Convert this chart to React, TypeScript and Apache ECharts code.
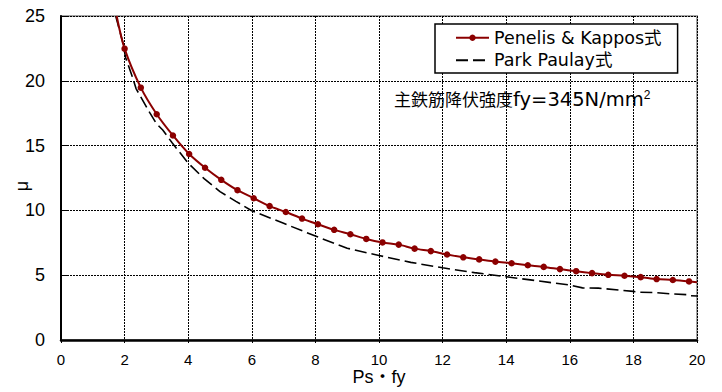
import React, { useEffect, useRef } from "react";
import * as echarts from "echarts";

const xTicks = { min: 0, max: 20, interval: 2 };
const yTicks = { min: 0, max: 25, interval: 5 };

const seriesNames = ["Penelis & Kappos式", "Park Paulay式"];

const penelisX = [1.75, 2.0, 2.51, 3.01, 3.52, 4.03, 4.53, 5.04, 5.55, 6.06, 6.56, 7.07, 7.58, 8.08, 8.59, 9.1, 9.6, 10.11, 10.62, 11.12, 11.63, 12.14, 12.65, 13.15, 13.66, 14.17, 14.68, 15.18, 15.69, 16.2, 16.7, 17.21, 17.72, 18.23, 18.73, 19.24, 19.75, 20.0];
const penelisY = [25.0, 22.48, 19.47, 17.42, 15.78, 14.35, 13.29, 12.36, 11.56, 10.94, 10.33, 9.88, 9.37, 8.93, 8.5, 8.16, 7.8, 7.53, 7.36, 7.05, 6.86, 6.6, 6.38, 6.22, 6.05, 5.92, 5.77, 5.64, 5.47, 5.31, 5.16, 5.03, 4.96, 4.85, 4.7, 4.63, 4.52, 4.45];

const parkX = [1.72, 1.94, 2.03, 2.26, 2.36, 2.8, 3.0, 3.2, 3.5, 4.0, 4.5, 5.0, 5.5, 6.0, 7.0, 8.0, 9.0, 10.0, 11.0, 12.0, 13.0, 14.0, 15.0, 16.0, 16.4, 16.9, 18.0, 18.2, 18.7, 19.25, 19.7, 19.77, 20.0];
const parkY = [25.0, 23.0, 21.8, 20.2, 19.4, 17.5, 16.7, 16.2, 15.2, 13.65, 12.45, 11.45, 10.7, 9.97, 9.0, 8.02, 7.08, 6.52, 5.99, 5.57, 5.2, 4.88, 4.56, 4.24, 4.02, 4.0, 3.75, 3.68, 3.66, 3.55, 3.5, 3.42, 3.4];

const xAxisTitle = "Ps・fy";
const yAxisTitle = "μ";
const noteMain = "主鉄筋降伏強度";
const noteLatin = "fy=345N/mm";
const noteSup = "2";

const FONT = '"Liberation Sans", Arial, "Noto Sans CJK JP", sans-serif';
const WIDE = '"DejaVu Sans", "Noto Sans CJK JP", sans-serif';
const RED = "#8B0000";

export default function App() {
  const ref = useRef<HTMLDivElement>(null);

  useEffect(() => {
    document.body.style.margin = "0";
    if (!ref.current) return;
    const chart = echarts.init(ref.current, undefined, { renderer: "svg" });

    const penelisData = penelisX.map((x, i) => {
      const edge = i === 0 || i === penelisX.length - 1;
      return edge ? { value: [x, penelisY[i]], symbol: "none" } : { value: [x, penelisY[i]] };
    });
    const parkData = parkX.map((x, i) => [x, parkY[i]]);

    chart.setOption({
      animation: false,
      backgroundColor: "#ffffff",
      textStyle: { fontFamily: FONT },
      grid: {
        left: 61,
        right: 25,
        top: 16,
        bottom: 52,
        show: true,
        borderColor: "#a6a6a6",
        borderWidth: 2,
        backgroundColor: "transparent",
      },
      xAxis: {
        type: "value",
        min: xTicks.min,
        max: xTicks.max,
        interval: xTicks.interval,
        axisLine: { show: true, onZero: false, lineStyle: { color: "#000", width: 2.5 } },
        axisTick: { show: true, inside: false, length: 3, lineStyle: { color: "#000", width: 1 } },
        axisLabel: { fontSize: 15, color: "#000", margin: 12, fontFamily: FONT },
        splitLine: { show: true, lineStyle: { color: "#000", width: 1, type: [2, 1] } },
      },
      yAxis: {
        type: "value",
        min: yTicks.min,
        max: yTicks.max,
        interval: yTicks.interval,
        axisLine: { show: true, onZero: false, lineStyle: { color: "#000", width: 2 } },
        axisTick: { show: true, inside: true, length: 6, lineStyle: { color: "#000", width: 1 } },
        axisLabel: { fontSize: 18, color: "#000", margin: 16, fontFamily: FONT },
        splitLine: { show: true, lineStyle: { color: "#000", width: 1, type: [2, 1] } },
      },
      legend: {
        orient: "vertical",
        left: 435,
        top: 24,
        padding: [5, 16, 4, 20],
        itemGap: 5,
        itemWidth: 33,
        itemHeight: 8,
        itemTextGap: 7,
        backgroundColor: "#ffffff",
        borderColor: "#000",
        borderWidth: 1.5,
        borderRadius: 0,
        textStyle: { fontSize: 17.5, color: "#000", fontFamily: WIDE },
        data: [
          { name: seriesNames[0] },
          { name: seriesNames[1], itemStyle: { color: "rgba(0,0,0,0)", borderWidth: 0 } },
        ],
      },
      graphic: [
        {
          type: "text",
          x: 22,
          y: 186,
          rotation: Math.PI / 2,
          style: {
            text: yAxisTitle,
            fontSize: 18,
            fill: "#000",
            align: "center",
            verticalAlign: "middle",
            fontFamily: FONT,
          },
        },
        {
          type: "text",
          x: 379,
          y: 377,
          style: {
            text: xAxisTitle,
            fontSize: 18,
            fill: "#000",
            align: "center",
            verticalAlign: "middle",
            fontFamily: FONT,
          },
        },
        {
          type: "text",
          x: 394,
          y: 99,
          style: {
            text: `{a|${noteMain}}{b|${noteLatin}}{s|${noteSup}}`,
            verticalAlign: "middle",
            fill: "#000",
            rich: {
              a: { fontSize: 17, fontFamily: FONT, fill: "#000", verticalAlign: "bottom" },
              b: { fontSize: 19.5, fontFamily: WIDE, fill: "#000", verticalAlign: "bottom" },
              s: { fontSize: 12, fontFamily: FONT, fill: "#000", verticalAlign: "top" },
            },
          },
        },
      ],
      series: [
        {
          name: seriesNames[1],
          type: "line",
          data: parkData,
          symbol: "none",
          smooth: false,
          z: 2,
          lineStyle: { color: "#000", width: 1.6, type: [12, 5] },
          itemStyle: { color: "#000" },
        },
        {
          name: seriesNames[0],
          type: "line",
          data: penelisData,
          symbol: "circle",
          symbolSize: 6.5,
          smooth: 0.3,
          z: 3,
          lineStyle: { color: RED, width: 2 },
          itemStyle: { color: RED },
        },
      ],
    });

    return () => {
      chart.dispose();
    };
  }, []);

  return (
    <div
      ref={ref}
      style={{ position: "fixed", left: 0, top: 0, width: 722, height: 392, background: "#fff" }}
    />
  );
}
